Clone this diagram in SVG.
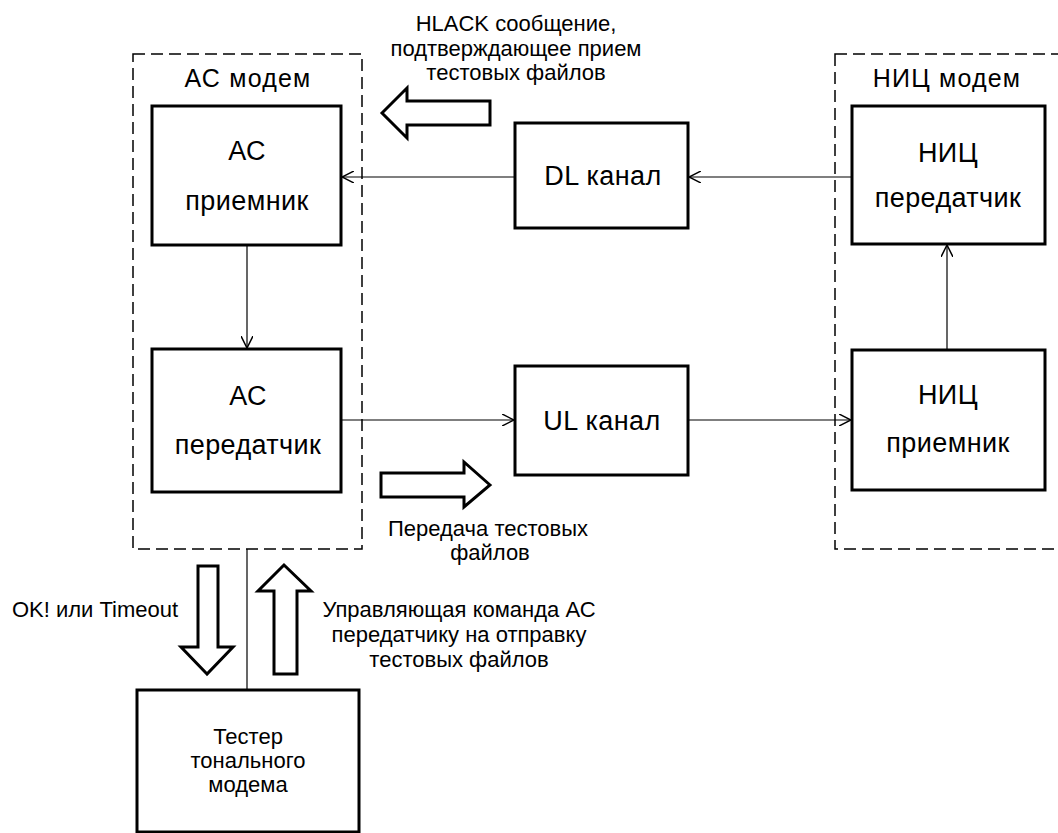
<svg xmlns="http://www.w3.org/2000/svg" width="1058" height="833" viewBox="0 0 1058 833">
<style>
.box{fill:#fff;stroke:#000;stroke-width:3}
.grp{fill:none;stroke:#000;stroke-width:1.5;stroke-dasharray:12 6}
.con{fill:none;stroke:#000;stroke-width:1.2}
.blk{fill:#fff;stroke:#000;stroke-width:3;stroke-linejoin:miter}
text{font-family:"Liberation Sans",Arial,sans-serif;fill:#000}
.nt{font-size:27px;text-anchor:middle;letter-spacing:0.4px}
.tt{font-size:25px;text-anchor:middle;letter-spacing:1.2px}
.lb{font-size:22px;text-anchor:middle}
</style>
<defs>
<marker id="arr" viewBox="0 0 12 12" refX="12" refY="6" markerWidth="12" markerHeight="12" markerUnits="userSpaceOnUse" orient="auto">
<path d="M0,0 L12,6 L0,12" fill="none" stroke="#000" stroke-width="1.5"/>
</marker>
</defs>
<rect width="1058" height="833" fill="#fff"/>
<g id="ac-modem">
<rect class="grp" x="133" y="54" width="229" height="495"/>
<text class="tt" x="248" y="87">АС модем</text>
</g>
<g id="nic-modem">
<rect class="grp" x="835" y="54" width="240" height="495"/>
<text class="tt" x="947" y="87">НИЦ модем</text>
</g>
<g id="connectors">
<line class="con" x1="515" y1="177" x2="342" y2="177" marker-end="url(#arr)"/>
<line class="con" x1="852" y1="177" x2="689" y2="177" marker-end="url(#arr)"/>
<line class="con" x1="247" y1="245" x2="247" y2="348" marker-end="url(#arr)"/>
<line class="con" x1="341" y1="420" x2="514" y2="420" marker-end="url(#arr)"/>
<line class="con" x1="688" y1="420" x2="851" y2="420" marker-end="url(#arr)"/>
<line class="con" x1="947" y1="350" x2="947" y2="245" marker-end="url(#arr)"/>
<line class="con" x1="247" y1="549" x2="247" y2="690"/>
</g>
<g id="ac-rx">
<rect class="box" x="152" y="106" width="189" height="139"/>
<text class="nt" x="247" y="160">АС</text>
<text class="nt" x="247" y="210">приемник</text>
</g>
<g id="ac-tx">
<rect class="box" x="152" y="349" width="189" height="143"/>
<text class="nt" x="248" y="405">АС</text>
<text class="nt" x="248" y="454">передатчик</text>
</g>
<g id="dl">
<rect class="box" x="515" y="123" width="173" height="105"/>
<text class="nt" x="603" y="185">DL канал</text>
</g>
<g id="ul">
<rect class="box" x="515" y="366" width="173" height="109"/>
<text class="nt" x="602" y="430">UL канал</text>
</g>
<g id="nic-tx">
<rect class="box" x="852" y="106" width="193" height="138"/>
<text class="nt" x="948" y="162">НИЦ</text>
<text class="nt" x="948" y="207">передатчик</text>
</g>
<g id="nic-rx">
<rect class="box" x="852" y="350" width="193" height="140"/>
<text class="nt" x="948" y="404">НИЦ</text>
<text class="nt" x="948" y="452">приемник</text>
</g>
<g id="tester">
<rect class="box" x="137" y="690" width="222" height="142"/>
<text class="lb" x="248" y="744">Тестер</text>
<text class="lb" x="248" y="768">тонального</text>
<text class="lb" x="248" y="792">модема</text>
</g>
<g id="block-arrows">
<polygon class="blk" points="382,113 407,88 407,101 490,101 490,125 407,125 407,138"/>
<polygon class="blk" points="490,485 464,462 464,473 381,473 381,497 464,497 464,507"/>
<polygon class="blk" points="207,674 181,647 198,647 198,566 218,566 218,647 233,647"/>
<polygon class="blk" points="284,565 258,591 274,591 274,674 297,674 297,591 311,591"/>
</g>
<g id="labels">
<text class="lb" x="516" y="31">HLACK сообщение,</text>
<text class="lb" x="516" y="56">подтверждающее прием</text>
<text class="lb" x="516" y="80">тестовых файлов</text>
<text class="lb" x="488" y="536">Передача тестовых</text>
<text class="lb" x="490" y="560">файлов</text>
<text class="lb" x="95" y="617">OK! или Timeout</text>
<text class="lb" x="459" y="617">Управляющая команда АС</text>
<text class="lb" x="459" y="642">передатчику на отправку</text>
<text class="lb" x="459" y="667">тестовых файлов</text>
</g>
</svg>
